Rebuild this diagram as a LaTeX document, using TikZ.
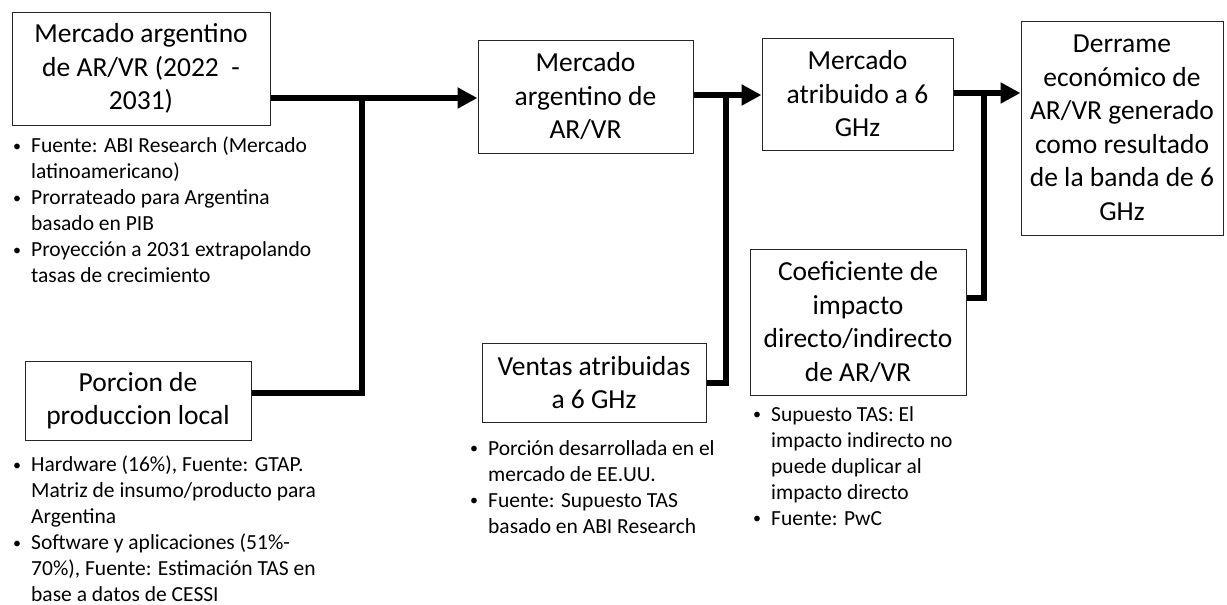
\documentclass[tikz,border=0pt]{standalone}
\usepackage{fontspec}
\setmainfont{Carlito}
\usetikzlibrary{arrows.meta}
\newcommand{\itm}{\makebox[19pt][l]{\hspace{1pt}{\fontsize{16}{16}\selectfont\raisebox{1.5pt}{•}}}}
\newcommand{\cnt}{\hspace*{19pt}}
\tikzset{
  box/.style={draw=black!85, line width=1pt, align=center, inner sep=0pt,
    font=\fontsize{27.5}{33.5}\selectfont},
  notes/.style={align=left, inner sep=0pt, anchor=north west,
    font=\fontsize{21.5}{26}\selectfont},
  conn/.style={line width=6pt, line join=miter},
  arr/.style={conn, -{Triangle[length=20pt,width=20pt]}}
}
\begin{document}
\begin{tikzpicture}[x=1pt,y=-1pt]
\useasboundingbox (0,0) rectangle (1227,605);
% boxes
\node[box, minimum width=258pt, minimum height=113pt] (A) at (141,68.5)
  {Mercado argentino\\de AR/VR (2022\ \ -\\2031)};
\node[box, minimum width=215pt, minimum height=113pt] (B) at (585.5,96.5)
  {Mercado\\argentino de\\AR/VR};
\node[box, minimum width=191pt, minimum height=112pt] (C) at (857.5,94)
  {Mercado\\atribuido a 6\\GHz};
\node[box, minimum width=202pt, minimum height=214pt] (D) at (1122,128)
  {Derrame\\económico de\\AR/VR generado\\como resultado\\de la banda de 6\\GHz};
\node[box, minimum width=216pt, minimum height=146pt] (E) at (858,322)
  {Coeficiente de\\impacto\\directo/indirecto\\de AR/VR};
\node[box, minimum width=224pt, minimum height=79pt] (V) at (594,382.5)
  {Ventas atribuidas\\a 6 GHz};
\node[box, minimum width=226pt, minimum height=79pt] (P) at (138,400.5)
  {Porcion de\\produccion local};
% notes
\node[notes] (nA) at (12,137)
  {\itm Fuente: ABI Research (Mercado\\\cnt latinoamericano)\\
   \itm Prorrateado para Argentina\\\cnt basado en PIB\\
   \itm Proyección a 2031 extrapolando\\\cnt tasas de crecimiento};
\node[notes] (nP) at (12,456)
  {\itm Hardware (16\%), Fuente: GTAP.\\\cnt Matriz de insumo/producto para\\\cnt Argentina\\
   \itm Software y aplicaciones (51\%-\\\cnt 70\%), Fuente: Estimación TAS en\\\cnt base a datos de CESSI};
\node[notes] (nV) at (469,440)
  {\itm Porción desarrollada en el\\\cnt mercado de EE.UU.\\
   \itm Fuente: Supuesto TAS\\\cnt basado en ABI Research};
\node[notes] (nE) at (752,406)
  {\itm Supuesto TAS: El\\\cnt impacto indirecto no\\\cnt puede duplicar al\\\cnt impacto directo\\
   \itm Fuente: PwC};
% junctions
\coordinate (j1) at (362,98);
\coordinate (k1) at (362,393);
\coordinate (j2) at (726,95);
\coordinate (k2) at (726,383);
\coordinate (j3) at (984,93);
\coordinate (k3) at (984,298);
% connectors
\draw[arr] (A.east |- j1) -- (B.west |- j1);
\draw[conn] (j1) -- (k1) -- (P.east |- k1);
\draw[arr] (B.east |- j2) -- (C.west |- j2);
\draw[conn] (j2) -- (k2) -- (V.east |- k2);
\draw[arr] (C.east |- j3) -- (D.west |- j3);
\draw[conn] (j3) -- (k3) -- (E.east |- k3);
\end{tikzpicture}
\end{document}
